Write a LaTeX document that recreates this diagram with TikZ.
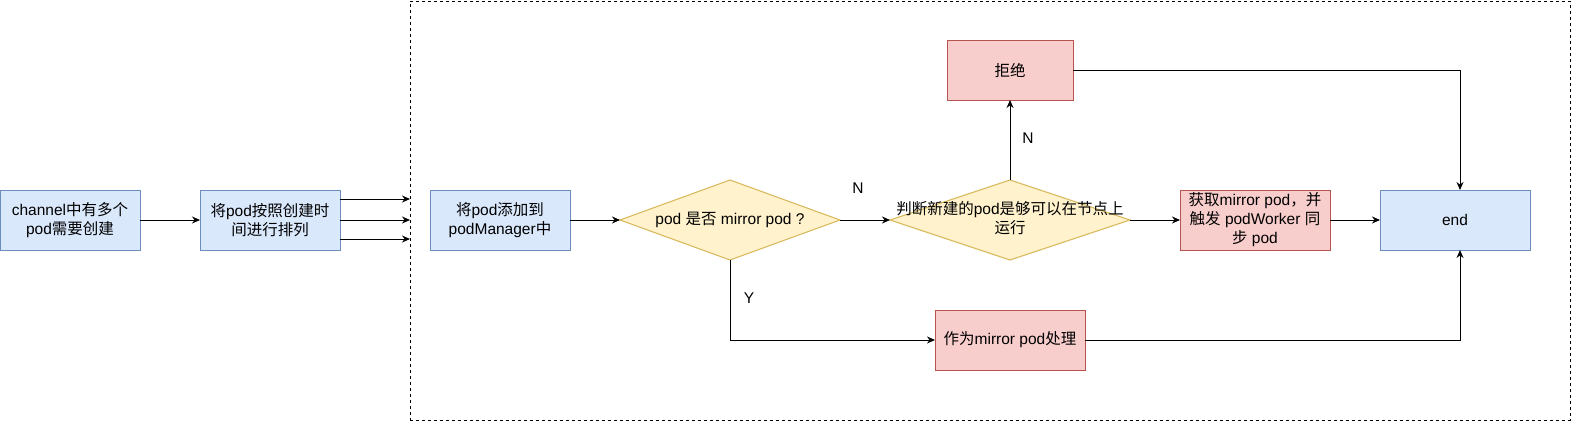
\documentclass[tikz,border=0pt]{standalone}
\usepackage{fontspec}
\setmainfont{Liberation Sans}
\newfontfamily\cjk{Noto Sans CJK SC}
\newcommand\zh[1]{{\cjk #1}}
\usetikzlibrary{shapes.geometric,arrows.meta}
\definecolor{bluefill}{HTML}{DAE8FC}
\definecolor{bluedraw}{HTML}{6C8EBF}
\definecolor{redfill}{HTML}{F8CECC}
\definecolor{reddraw}{HTML}{B85450}
\definecolor{yelfill}{HTML}{FFF2CC}
\definecolor{yeldraw}{HTML}{D6B656}
\tikzset{
  every node/.style={font=\fontsize{15.5}{19}\selectfont, inner sep=0pt, outer sep=0pt, align=center},
  bluebox/.style={draw=bluedraw, fill=bluefill, line width=1pt, minimum width=140pt, minimum height=60pt},
  redbox/.style={draw=reddraw, fill=redfill, line width=1pt, minimum width=150pt, minimum height=60pt},
  decision/.style={diamond, draw=yeldraw, fill=yelfill, line width=1pt},
  framebox/.style={draw=black, dash pattern=on 3pt off 3pt, line width=0.8pt, minimum width=1160pt, minimum height=419pt},
  conn/.style={draw=black, line width=1pt, -{Stealth[length=8pt,width=7pt]}},
  lbl/.style={font=\fontsize{15.5}{19}\selectfont}
}
\begin{document}
\begin{tikzpicture}[x=1pt,y=-1pt]
\useasboundingbox (0,0) rectangle (1571,421);
\node[framebox, anchor=north west] (frame) at (410,1) {};
\node[bluebox] (a) at (70,220) {channel\zh{中有多个}\\pod\zh{需要创建}};
\node[bluebox] (b) at (270,220) {\zh{将}pod\zh{按照创建时}\\\zh{间进行排列}};
\node[bluebox] (c) at (500,220) {\zh{将}pod\zh{添加到}\\podManager\zh{中}};
\node[decision, minimum width=220pt, minimum height=80pt] (d1) at (730,220) {};
\node (d1t) at (730,220) {pod \zh{是否} mirror pod ?};
\node[decision, minimum width=240pt, minimum height=80pt] (d2) at (1010,220) {};
\node (d2t) at (1010,218) {\zh{判断新建的}pod\zh{是够可以在节点上}\\\zh{运行}};
\node[redbox] (e) at (1255,220) {\zh{获取}mirror pod\zh{，并}\\\zh{触发} podWorker \zh{同}\\\zh{步} pod};
\node[bluebox, minimum width=150pt] (end) at (1455,220) {end};
\node[redbox, minimum width=126pt] (rej) at (1010,70) {\zh{拒绝}};
\node[redbox] (f) at (1010,340) {\zh{作为}mirror pod\zh{处理}};
\node[lbl] (ln1) at (858,188) {N};
\node[lbl] (ln2) at (1028,138) {N};
\node[lbl] (ly) at (749,298) {Y};
\coordinate (endtop) at ([xshift=5pt]end.north);
\coordinate (endbot) at ([xshift=5pt]end.south);
\draw[conn] (a.east) -- (b.west);
\draw[conn] ([yshift=-19pt]b.east) -- ([yshift=-19pt]b.east -| frame.west);
\draw[conn] (b.east) -- (b.east -| frame.west);
\draw[conn] ([yshift=21pt]b.east) -- ([yshift=21pt]b.east -| frame.west);
\draw[conn] (c.east) -- (d1.west);
\draw[conn] (d1.east) -- (d2.west);
\draw[conn] (d2.east) -- (e.west);
\draw[conn] (e.east) -- (end.west);
\draw[conn] (d2.north) -- (rej.south);
\draw[conn] (rej.east) -| (endtop);
\draw[conn] (d1.south) |- (f.west);
\draw[conn] (f.east) -| (endbot);
\end{tikzpicture}
\end{document}
